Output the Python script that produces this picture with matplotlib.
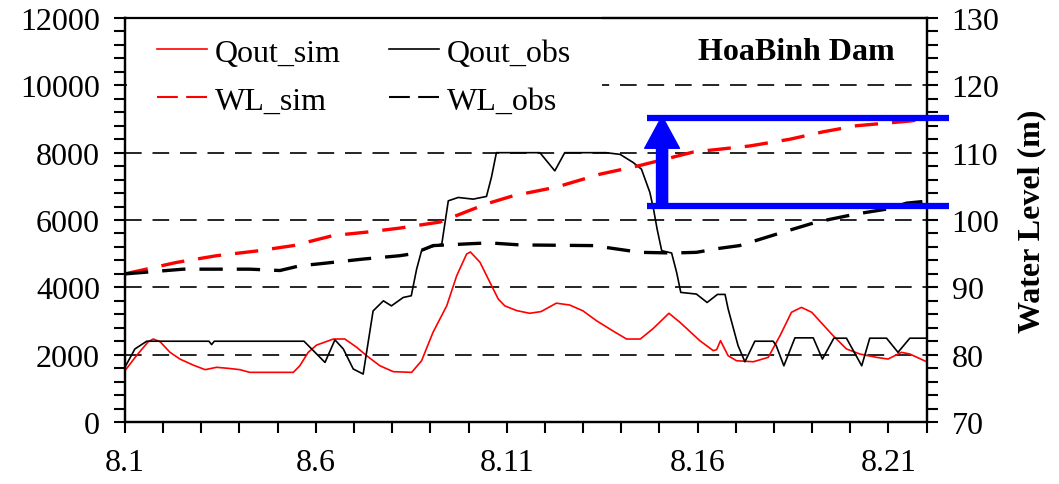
import matplotlib
matplotlib.use("Agg")
import matplotlib.pyplot as plt
from matplotlib.patches import FancyArrowPatch
from matplotlib.lines import Line2D
from matplotlib.ticker import MultipleLocator, FixedLocator

plt.rcParams['font.family'] = ['Liberation Serif', 'DejaVu Serif']

# ---- data (day offset from 8.1) ----
qobs_day = [0.0, 0.26, 0.57, 2.2, 2.27, 2.34, 4.69, 5.24, 5.5, 5.72, 5.98, 6.24, 6.5, 6.77,
            6.98, 7.29, 7.5, 7.64, 7.77, 8.0, 8.3, 8.47, 8.73, 9.12, 9.47, 9.6, 9.73, 10.87,
            11.26, 11.52, 12.6, 12.97, 13.31, 13.53, 13.75, 13.85, 13.94, 14.06, 14.32,
            14.45, 14.56, 14.97, 15.25, 15.52, 15.72, 15.8, 16.06, 16.24, 16.5, 16.98,
            17.06, 17.26, 17.55, 18.03, 18.27, 18.57, 18.9, 19.3, 19.51, 19.95, 20.25,
            20.56, 21.0]
qobs_val = [1630, 2170, 2400, 2400, 2300, 2400, 2400, 1770, 2440, 2170, 1575, 1425, 3300, 3600,
            3450, 3700, 3750, 4540, 5090, 5190, 5290, 6570, 6670, 6620, 6700, 7270, 8000, 8000,
            7460, 8000, 8000, 7950, 7710, 7510, 6820, 6300, 5730, 5090, 5020,
            4450, 3850, 3800, 3550, 3790, 3790, 3360, 2270, 1790, 2400, 2400,
            2270, 1670, 2500, 2500, 1870, 2490, 2490, 1670, 2490, 2490, 2070,
            2490, 2490]

qsim_day = [0.0, 0.3, 0.61, 0.74, 0.92, 1.18, 1.44, 1.79, 2.1, 2.4, 2.7, 3.01, 3.27, 4.41,
            4.58, 4.8, 5.02, 5.46, 5.76, 6.07, 6.33, 6.68, 7.03, 7.51, 7.77, 8.07, 8.43,
            8.69, 8.95, 9.05, 9.3, 9.56, 9.78, 9.95, 10.26, 10.6, 10.9, 11.3, 11.65, 12.0,
            12.35, 12.79, 13.14, 13.5, 13.84, 14.25, 14.54, 15.06, 15.41, 15.5, 15.6, 15.8,
            16.02, 16.46, 16.85, 17.16, 17.46, 17.72, 17.99, 18.55, 18.9, 19.25, 19.69,
            19.99, 20.34, 20.56, 21.0]
qsim_val = [1525, 1970, 2385, 2465, 2385, 2070, 1870, 1690, 1555, 1625, 1595, 1555, 1475, 1475,
            1670, 2070, 2285, 2465, 2465, 2220, 1970, 1670, 1495, 1475, 1820, 2665, 3455,
            4345, 4990, 5050, 4745, 4150, 3650, 3450, 3310, 3230, 3280, 3530, 3475, 3300,
            3010, 2700, 2465, 2465, 2780, 3230, 2960, 2415, 2120, 2150, 2415, 1970,
            1820, 1790, 1920, 2565, 3260, 3405, 3260, 2565, 2170, 2020, 1920,
            1870, 2070, 2020, 1790]

wlsim_day = [0.0, 1.35, 2.4, 3.45, 4.41, 5.46, 6.33, 7.2, 8.25, 9.47, 10.17, 11.31, 12.44,
             13.49, 14.89, 16.37, 17.42, 18.29, 19.16, 20.56, 21.0]
wlsim_val = [92.0, 93.7, 94.7, 95.4, 96.2, 97.7, 98.2, 98.8, 99.7, 102.4, 103.6, 104.9, 106.8,
             108.1, 110.1, 111.0, 112.0, 113.1, 114.0, 114.7, 115.0]

wlobs_day = [0.0, 1.53, 3.27, 4.06, 4.58, 5.1, 6.24, 7.2, 7.55, 8.07, 9.12, 9.56, 10.35,
             12.27, 13.49, 14.36, 14.97, 15.58, 16.1, 17.24, 18.12, 19.16, 20.04, 20.47, 21.0]
wlobs_val = [92.0, 92.7, 92.7, 92.5, 93.2, 93.5, 94.2, 94.7, 95.0, 96.2, 96.5, 96.6, 96.3,
             96.2, 95.2, 95.1, 95.2, 95.8, 96.2, 98.2, 99.7, 100.9, 101.7, 102.5, 102.8]

xtick_pos = [0, 5, 10, 15, 20]
xtick_labels = ['8.1', '8.6', '8.11', '8.16', '8.21']

# annotation (blue bracket) in water-level units
band_low, band_high = 102.1, 115.2
band_x0, band_x1 = 13.67, 21.58
arrow_x = 14.07

FS = 23

fig = plt.figure(figsize=(10.59, 4.85), dpi=100)
ax = fig.add_axes([0.118, 0.1278, 0.757, 0.833])
ax2 = ax.twinx()

# grid
for g in [2000, 4000, 6000, 8000, 10000]:
    ax.axhline(g, color='black', lw=1.2, dashes=(10, 6.5), zorder=1)

ax.plot(qsim_day, qsim_val, color='red', lw=1.2, zorder=3)
ax.plot(qobs_day, qobs_val, color='black', lw=1.2, zorder=3)
ax2.plot(wlsim_day, wlsim_val, color='red', lw=2.4, dashes=(7, 4.2), zorder=3)
ax2.plot(wlobs_day, wlobs_val, color='black', lw=2.4, dashes=(7, 4.2), zorder=3)

ax.set_xlim(0, 21)
ax.set_ylim(0, 12000)
ax2.set_ylim(70, 130)

ax.xaxis.set_major_locator(FixedLocator(xtick_pos))
ax.set_xticklabels(xtick_labels)
ax.xaxis.set_minor_locator(MultipleLocator(1))
ax.yaxis.set_major_locator(MultipleLocator(2000))
ax.yaxis.set_minor_locator(MultipleLocator(400))
ax2.yaxis.set_major_locator(MultipleLocator(10))
ax2.yaxis.set_minor_locator(MultipleLocator(2))

for a in (ax, ax2):
    for s in a.spines.values():
        s.set_linewidth(1.6)
ax.tick_params(axis='both', which='both', direction='out', length=8, width=1.5, labelsize=FS)
ax.tick_params(axis='y', which='both', pad=10)
ax.tick_params(axis='x', which='both', pad=10.5)
ax2.tick_params(axis='y', which='both', direction='out', length=8, width=1.5, labelsize=FS, pad=10)

ax2.set_ylabel('Water Level (m)', fontsize=FS, fontweight='bold', labelpad=13)

ax.text(0.9605, 0.918, 'HoaBinh Dam', transform=ax.transAxes, ha='right', va='center',
        fontsize=FS, fontweight='bold')

# legend
h = [Line2D([], [], color='red', lw=1.2),
     Line2D([], [], color='red', lw=1.5, dashes=(10, 4)),
     Line2D([], [], color='black', lw=1.2),
     Line2D([], [], color='black', lw=1.5, dashes=(10, 4))]
labels = ['Qout_sim', 'WL_sim', 'Qout_obs', 'WL_obs']
leg = ax2.legend(h, labels, ncol=2, loc='upper left', bbox_to_anchor=(0.002, 1.025),
                 borderaxespad=0, fontsize=FS, frameon=True, facecolor='white',
                 edgecolor='none', framealpha=1, handlelength=1.57, handletextpad=0.25,
                 columnspacing=1.5, labelspacing=0.58, borderpad=0.95, fancybox=False)
leg.set_zorder(2)

# blue bracket + arrow
for yv in (band_low, band_high):
    ax2.plot([band_x0, band_x1], [yv, yv], color='blue', lw=4.5, solid_capstyle='butt',
             clip_on=False, zorder=6)
arr = FancyArrowPatch((arrow_x, band_low), (arrow_x, band_high + 0.2),
                      arrowstyle='simple,head_length=23,head_width=25,tail_width=8',
                      mutation_scale=1, color='blue', shrinkA=0, shrinkB=0, zorder=6,
                      clip_on=False)
ax2.add_patch(arr)

fig.savefig('out.png', dpi=100)
